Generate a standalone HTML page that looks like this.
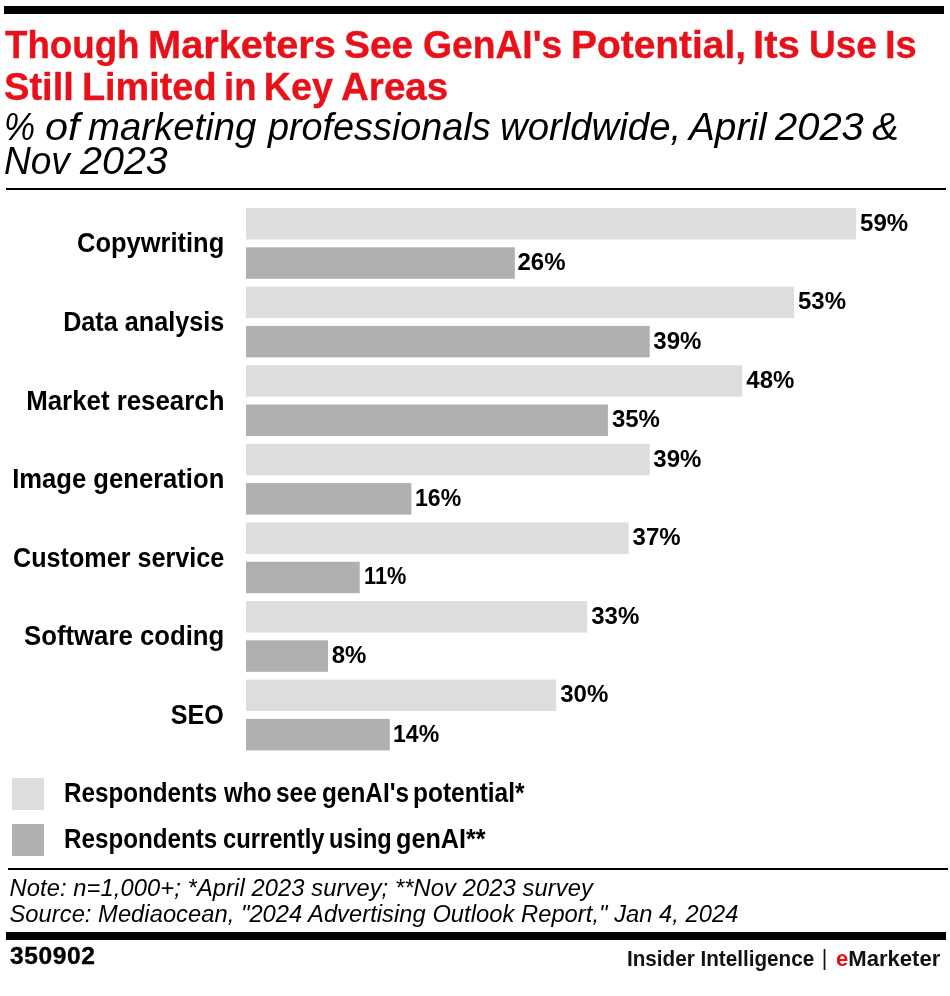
<!DOCTYPE html>
<html lang="en">
<head>
<meta charset="utf-8">
<title>Though Marketers See GenAI's Potential, Its Use Is Still Limited in Key Areas</title>
<style>
html,body{margin:0;padding:0;background:#fff;}
body{width:950px;height:996px;position:relative;overflow:hidden;font-family:"Liberation Sans",Arial,sans-serif;color:#000;}
.abs{position:absolute;white-space:nowrap;line-height:1;transform-origin:0 0;}
.rule{position:absolute;background:#000;}
.title{font-weight:bold;font-size:37.7px;color:#e8111a;-webkit-text-stroke:0.35px #e8111a;}
.sub{font-style:italic;font-size:37.7px;}
.cat{font-weight:bold;font-size:26px;right:726px;text-align:right;transform:scaleX(0.957);transform-origin:100% 0;}
.val{font-weight:bold;font-size:24px;}
.leg{font-weight:bold;font-size:26px;}
.sw{position:absolute;left:12px;width:32px;height:32px;}
.l{background:#dddddc;}
.d{background:#b0b0b0;}
.note{font-style:italic;font-size:23.7px;left:9.5px;}
.foot{font-weight:bold;}
.brand{font-size:21.4px;color:#111;}
</style>
</head>
<body>
<div class="rule" style="left:4px;top:6px;width:940px;height:8px"></div>
<div class="line">
<span class="abs title" style="left:4.76px;top:26.5px;transform:scale(0.9738,1.015)">Though</span>
<span class="abs title" style="left:148.02px;top:26.5px;transform:scale(1.0556,1.015)">Marketers</span>
<span class="abs title" style="left:343.67px;top:26.5px;transform:scale(1.0308,1.015)">See</span>
<span class="abs title" style="left:423.42px;top:26.5px;transform:scale(0.9884,1.015)">GenAI's</span>
<span class="abs title" style="left:570.98px;top:26.5px;transform:scale(1.0321,1.015)">Potential,</span>
<span class="abs title" style="left:753.2px;top:26.5px;transform:scale(1.0658,1.015)">Its</span>
<span class="abs title" style="left:809.03px;top:26.5px;transform:scale(0.9833,1.015)">Use</span>
<span class="abs title" style="left:885.42px;top:26.5px;transform:scale(1.0126,1.015)">Is</span>
</div>
<div class="line">
<span class="abs title" style="left:3.79px;top:68.6px;transform:scale(1.0107,1.015)">Still</span>
<span class="abs title" style="left:81.74px;top:68.6px;transform:scale(1.0039,1.015)">Limited</span>
<span class="abs title" style="left:223.78px;top:68.6px;transform:scale(0.967,1.015)">in</span>
<span class="abs title" style="left:263.75px;top:68.6px;transform:scale(1.0,1.015)">Key</span>
<span class="abs title" style="left:341.13px;top:68.6px;transform:scale(1.0238,1.015)">Areas</span>
</div>
<div class="line">
<span class="abs sub" style="left:4.45px;top:108.1px;transform:scale(0.9265,1.042)">%</span>
<span class="abs sub" style="left:45.12px;top:108.1px;transform:scale(1.1008,1.042)">of</span>
<span class="abs sub" style="left:87.64px;top:108.1px;transform:scale(1.018,1.042)">marketing</span>
<span class="abs sub" style="left:267.5px;top:108.1px;transform:scale(1.0025,1.042)">professionals</span>
<span class="abs sub" style="left:499.87px;top:108.1px;transform:scale(1.0172,1.042)">worldwide,</span>
<span class="abs sub" style="left:688.8px;top:108.1px;transform:scale(1.0282,1.042)">April</span>
<span class="abs sub" style="left:774.66px;top:108.1px;transform:scale(1.0591,1.042)">2023</span>
<span class="abs sub" style="left:871.77px;top:108.1px;transform:scale(1.0667,1.042)">&amp;</span>
</div>
<div class="line">
<span class="abs sub" style="left:4.07px;top:141.6px;transform:scale(0.9822,1.042)">Nov</span>
<span class="abs sub" style="left:80.26px;top:141.6px;transform:scale(1.0472,1.042)">2023</span>
</div>
<div class="rule" style="left:6px;top:188px;width:940px;height:2px"></div>

<div id="chart">
<svg class="bars" width="950" height="996" viewBox="0 0 950 996" style="position:absolute;left:0;top:0">
<rect x="246" y="208.0" width="610.1" height="31.5" fill="#dddddc"/>
<rect x="246" y="247.3" width="268.8" height="31.5" fill="#b0b0b0"/>
<rect x="246" y="286.6" width="548.0" height="31.5" fill="#dddddc"/>
<rect x="246" y="325.9" width="403.7" height="31.5" fill="#b0b0b0"/>
<rect x="246" y="365.2" width="496.3" height="31.5" fill="#dddddc"/>
<rect x="246" y="404.5" width="361.9" height="31.5" fill="#b0b0b0"/>
<rect x="246" y="443.8" width="403.7" height="31.5" fill="#dddddc"/>
<rect x="246" y="483.1" width="165.4" height="31.5" fill="#b0b0b0"/>
<rect x="246" y="522.4" width="382.6" height="31.5" fill="#dddddc"/>
<rect x="246" y="561.7" width="113.7" height="31.5" fill="#b0b0b0"/>
<rect x="246" y="601.0" width="341.2" height="31.5" fill="#dddddc"/>
<rect x="246" y="640.3" width="82.0" height="31.5" fill="#b0b0b0"/>
<rect x="246" y="679.6" width="310.2" height="31.5" fill="#dddddc"/>
<rect x="246" y="718.9" width="143.8" height="31.5" fill="#b0b0b0"/>
</svg>
<div class="abs cat" style="top:229.3px;transform:scale(0.98,1.04)">Copywriting</div>
<div class="abs cat" style="top:307.9px;transform:scale(0.969,1.04)">Data analysis</div>
<div class="abs cat" style="top:386.5px;transform:scale(0.994,1.04)">Market research</div>
<div class="abs cat" style="top:465.1px;transform:scale(0.985,1.04)">Image generation</div>
<div class="abs cat" style="top:543.7px;transform:scale(0.9675,1.04)">Customer service</div>
<div class="abs cat" style="top:622.3px;transform:scale(0.99,1.04)">Software coding</div>
<div class="abs cat" style="top:700.9px;transform:scale(0.967,1.04)">SEO</div>
<div class="abs val" style="left:860.1px;top:210.7px">59%</div>
<div class="abs val" style="left:517.5px;top:250.0px">26%</div>
<div class="abs val" style="left:798.0px;top:289.3px">53%</div>
<div class="abs val" style="left:653.3px;top:328.6px">39%</div>
<div class="abs val" style="left:746.3px;top:367.9px">48%</div>
<div class="abs val" style="left:611.9px;top:407.2px">35%</div>
<div class="abs val" style="left:653.3px;top:446.5px">39%</div>
<div class="abs val" style="left:415.4px;top:485.8px;transform:scaleX(0.96)">16%</div>
<div class="abs val" style="left:632.6px;top:525.1px">37%</div>
<div class="abs val" style="left:363.7px;top:564.4px;transform:scaleX(0.905)">11%</div>
<div class="abs val" style="left:591.2px;top:603.7px">33%</div>
<div class="abs val" style="left:331.7px;top:643.0px">8%</div>
<div class="abs val" style="left:560.2px;top:682.3px">30%</div>
<div class="abs val" style="left:393.3px;top:721.6px;transform:scaleX(0.96)">14%</div>
</div><!--/chart-->

<div class="sw l" style="top:778px"></div>
<div class="line">
<span class="abs leg" style="left:64.17px;top:779.3px;transform:scale(0.9309,1.035)">Respondents</span>
<span class="abs leg" style="left:223.6px;top:779.3px;transform:scale(0.9157,1.035)">who</span>
<span class="abs leg" style="left:276.36px;top:779.3px;transform:scale(0.9422,1.035)">see</span>
<span class="abs leg" style="left:322.06px;top:779.3px;transform:scale(0.9366,1.035)">genAI's</span>
<span class="abs leg" style="left:413.35px;top:779.3px;transform:scale(0.9416,1.035)">potential*</span>
</div>
<div class="sw d" style="top:824px"></div>
<div class="line">
<span class="abs leg" style="left:64.17px;top:825.2px;transform:scale(0.9309,1.035)">Respondents</span>
<span class="abs leg" style="left:222.69px;top:825.2px;transform:scale(0.9127,1.035)">currently</span>
<span class="abs leg" style="left:328.95px;top:825.2px;transform:scale(0.903,1.035)">using</span>
<span class="abs leg" style="left:395.63px;top:825.2px;transform:scale(0.9688,1.035)">genAI**</span>
</div>

<div class="rule" style="left:8px;top:868px;width:940px;height:2px"></div>
<div class="abs note" style="top:876.9px;letter-spacing:0.1px">Note: n=1,000+; *April 2023 survey; **Nov 2023 survey</div>
<div class="abs note" style="top:902.9px;letter-spacing:0.05px">Source: Mediaocean, "2024 Advertising Outlook Report," Jan 4, 2024</div>
<div class="rule" style="left:6px;top:932px;width:940px;height:8px"></div>
<div class="abs foot" style="left:9.5px;top:944.8px;font-size:23.2px;letter-spacing:0.55px;transform:scaleX(1.06);-webkit-text-stroke:0.35px #000">350902</div>
<div class="abs foot brand" style="left:627.2px;top:949.1px;transform:scaleX(0.966)">Insider Intelligence</div>
<div class="abs foot brand" style="left:821.7px;top:947.8px;font-weight:normal">|</div>
<div class="abs foot brand" style="left:835.7px;top:949.1px;transform:scaleX(1.032)"><span style="color:#e8111a">e</span>Marketer</div>
</body>
</html>
